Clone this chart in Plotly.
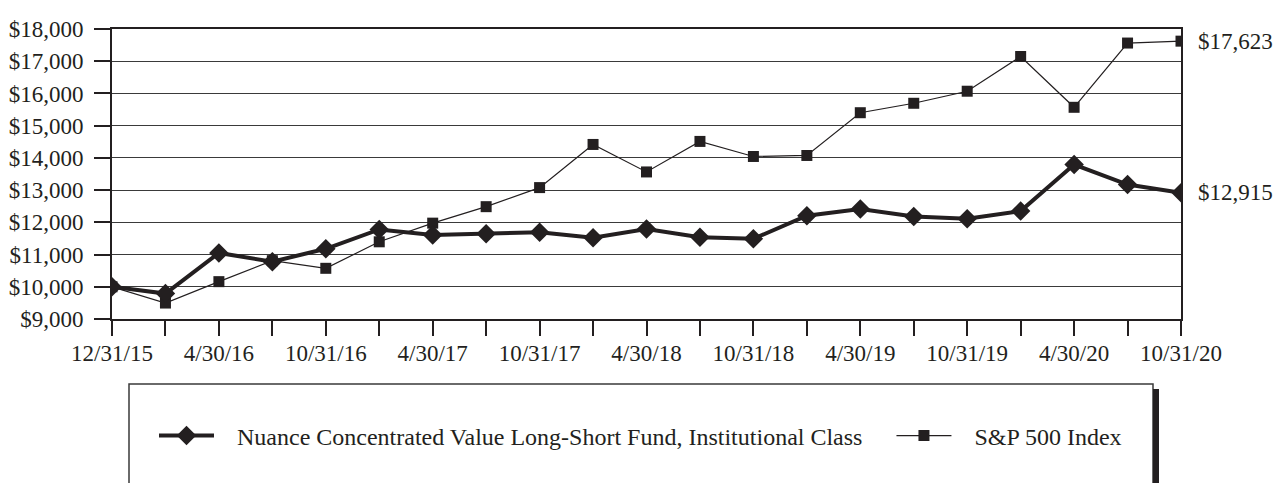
import plotly.graph_objects as go

dates = ["12/31/15", "1/31/16", "4/30/16", "7/31/16", "10/31/16", "1/31/17", "4/30/17",
         "7/31/17", "10/31/17", "1/31/18", "4/30/18", "7/31/18", "10/31/18", "1/31/19",
         "4/30/19", "7/31/19", "10/31/19", "1/31/20", "4/30/20", "7/31/20", "10/31/20"]
fund = [10000, 9790, 11050, 10780, 11180, 11780, 11610, 11645, 11695, 11520, 11790,
        11540, 11490, 12206, 12411, 12184, 12112, 12349, 13794, 13171, 12915]
sp500 = [10000, 9495, 10159, 10810, 10573, 11396, 11975, 12486, 13078, 14417, 13564,
         14511, 14044, 14075, 15402, 15695, 16069, 17146, 15570, 17564, 17623]
fund_name = "Nuance Concentrated Value Long-Short Fund, Institutional Class"
sp_name = "S&P 500 Index"
y_ticks = list(range(9000, 18001, 1000))

INK = "#231f20"
FONT = "Liberation Serif"
FS = 24
SP = "&nbsp;"

tick_text = [d if i % 2 == 0 else "" for i, d in enumerate(dates)]

fig = go.Figure()
fig.add_trace(go.Scatter(
    x=dates, y=sp500, name=SP * 3 + sp_name, mode="lines+markers",
    line=dict(color=INK, width=1.2),
    marker=dict(symbol="square", size=11, color=INK),
))
fig.add_trace(go.Scatter(
    x=dates, y=fund, name=SP * 3 + fund_name + SP * 4, mode="lines+markers",
    line=dict(color=INK, width=4),
    marker=dict(symbol="diamond", size=15, color=INK),
))

for series in (sp500, fund):
    fig.add_annotation(
        x=dates[-1], y=series[-1], text=f"${series[-1]:,}",
        showarrow=False, xanchor="left", yanchor="middle", xshift=15,
        font=dict(family=FONT, size=23, color=INK),
    )

W, H = 1276, 483
L, R, T, B = 112, 95, 29, 164
pw, ph = W - L - R, H - T - B

def px(x):
    return (x - L) / pw

def py(y):
    return (H - B - y) / ph

# legend frame (extends past the bottom of the picture) and its dark right bar
fig.add_shape(type="rect", xref="paper", yref="paper",
              x0=px(129), x1=px(1153), y0=py(384), y1=py(560),
              line=dict(color="#3a3a3a", width=1.5), fillcolor="rgba(0,0,0,0)")
fig.add_shape(type="rect", xref="paper", yref="paper",
              x0=px(1153), x1=px(1159), y0=py(389), y1=py(560),
              line=dict(width=0), fillcolor=INK)

fig.update_layout(
    width=W, height=H,
    margin=dict(l=L, r=R, t=T, b=B, autoexpand=False),
    paper_bgcolor="white", plot_bgcolor="white",
    font=dict(family=FONT, size=FS, color=INK),
    showlegend=True,
    legend=dict(
        orientation="h", x=px(154), y=py(436), xanchor="left", yanchor="middle",
        traceorder="reversed", itemwidth=55,
        font=dict(family=FONT, size=FS, color=INK),
        bgcolor="rgba(0,0,0,0)",
    ),
    xaxis=dict(
        type="category", tickmode="array", tickvals=dates, ticktext=tick_text,
        range=[0, len(dates) - 1], showgrid=False, zeroline=False, automargin=False,
        showline=True, linecolor=INK, linewidth=2, mirror=True,
        ticks="outside", ticklen=15, tickwidth=1.5, tickcolor=INK,
        tickangle=0, ticklabelstandoff=-3, tickfont=dict(size=23),
    ),
    yaxis=dict(
        range=[9000, 18000], tickmode="array", tickvals=y_ticks,
        ticktext=[f"${v:,}" for v in y_ticks], automargin=False,
        showgrid=True, gridcolor="#3a3a3a", gridwidth=1.3, zeroline=False,
        showline=True, linecolor=INK, linewidth=2, mirror=True,
        ticks="outside", ticklen=16, tickwidth=1.5, tickcolor=INK,
        ticklabelstandoff=6, tickfont=dict(size=23),
    ),
)

fig.write_html("out.html", config={"displayModeBar": False},
               post_script="document.body.style.margin='0';")
